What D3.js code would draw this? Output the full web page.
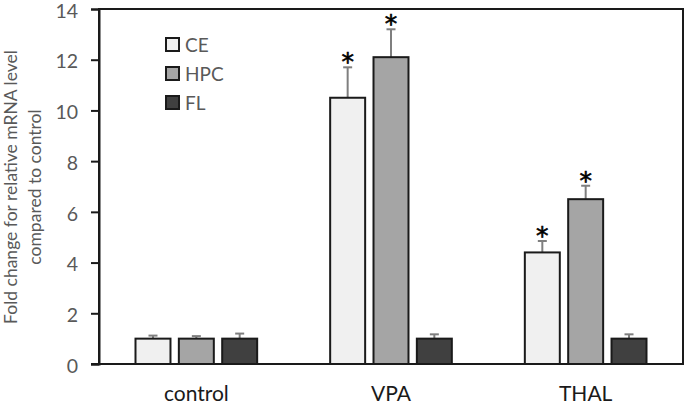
<!DOCTYPE html>
<html><head><meta charset="utf-8">
<script src="https://cdn.jsdelivr.net/npm/d3@7"></script>
<style>body{margin:0;background:#fff;} svg{display:block;}</style>
</head><body>
<script>
const categories = ["control", "VPA", "THAL"];
const seriesNames = ["CE", "HPC", "FL"];
const ceValues = [1.0, 10.5, 4.4];
const hpcValues = [1.0, 12.1, 6.5];
const flValues = [1.0, 1.0, 1.0];
const ceErrors = [0.12, 1.2, 0.45];
const hpcErrors = [0.1, 1.1, 0.53];
const flErrors = [0.2, 0.17, 0.17];
const ceStars = [false, true, true];
const hpcStars = [false, true, true];
const flStars = [false, false, false];
const yTicks = [0, 2, 4, 6, 8, 10, 12, 14];
const colors = ["#f0f0f0", "#a5a5a5", "#404040"];

const values = [ceValues, hpcValues, flValues];
const errors = [ceErrors, hpcErrors, flErrors];
const stars = [ceStars, hpcStars, flStars];

const W = 685, H = 405;
const m = {left: 99, right: 2, top: 9, bottom: 41};
const svg = d3.select("body").append("svg").attr("width", W).attr("height", H);
const font = "Lato, 'Open Sans', sans-serif";

const x0 = d3.scaleBand().domain(categories).range([m.left, W - m.right]).paddingInner(0.375).paddingOuter(0.1875);
const x1 = d3.scaleBand().domain(seriesNames).range([0, x0.bandwidth()]).paddingInner(0.193).paddingOuter(0);
const y = d3.scaleLinear().domain([0, 14]).range([H - m.bottom, m.top]);

// frame
svg.append("rect").attr("x", m.left).attr("y", m.top).attr("width", W - m.right - m.left).attr("height", H - m.bottom - m.top)
  .attr("fill", "none").attr("stroke", "#1a1a1a").attr("stroke-width", 2);

// y axis
const yAxis = svg.append("g").attr("transform", `translate(${m.left},0)`)
  .call(d3.axisLeft(y).tickValues(yTicks).tickSize(8).tickPadding(13).tickFormat(d3.format("d")));
yAxis.select(".domain").attr("stroke", "#1a1a1a").attr("stroke-width", 2);
yAxis.selectAll(".tick line").attr("stroke", "#1a1a1a").attr("stroke-width", 2);
yAxis.selectAll(".tick text").attr("font-family", font).attr("font-size", 19.5).attr("fill", "#595959")
  .attr("y", 2);

// x labels
const xAxis = svg.append("g").attr("transform", `translate(0,${H - m.bottom})`)
  .call(d3.axisBottom(x0).tickSize(0).tickPadding(22));
xAxis.select(".domain").remove();
xAxis.selectAll(".tick text").attr("font-family", font).attr("font-size", 21).attr("fill", "#1a1a1a");

// bars
seriesNames.forEach((s, si) => {
  const g = svg.append("g");
  categories.forEach((c, ci) => {
    const bx = x0(c) + x1(s), bw = x1.bandwidth();
    const v = values[si][ci], e = errors[si][ci];
    const cx = bx + bw / 2;
    g.append("line").attr("x1", cx).attr("x2", cx).attr("y1", y(v)).attr("y2", y(v + e))
      .attr("stroke", "#7f7f7f").attr("stroke-width", 2);
    g.append("line").attr("x1", cx - 4.5).attr("x2", cx + 4.5).attr("y1", y(v + e)).attr("y2", y(v + e))
      .attr("stroke", "#7f7f7f").attr("stroke-width", 2);
    g.append("rect").attr("x", bx).attr("y", y(v)).attr("width", bw).attr("height", y(0) - y(v))
      .attr("fill", colors[si]).attr("stroke", "#1a1a1a").attr("stroke-width", 2);
    if (stars[si][ci]) {
      g.append("text").attr("x", cx).attr("y", y(v + e) + 3).attr("text-anchor", "middle")
        .attr("font-family", "'DejaVu Sans', sans-serif").attr("font-size", 25).attr("fill", "#000")
        .attr("stroke", "#000").attr("stroke-width", 0.6).text("*");
    }
  });
});

svg.append("line").attr("x1", m.left - 8).attr("x2", W - m.right).attr("y1", y(0)).attr("y2", y(0))
  .attr("stroke", "#1a1a1a").attr("stroke-width", 2);

// legend
const leg = svg.append("g");
seriesNames.forEach((s, i) => {
  const ly = 45 + i * 29;
  leg.append("rect").attr("x", 166).attr("y", ly - 7).attr("width", 13).attr("height", 13)
    .attr("fill", colors[i]).attr("stroke", "#1a1a1a").attr("stroke-width", 2);
  leg.append("text").attr("x", 185).attr("y", ly).attr("dy", "0.35em")
    .attr("font-family", font).attr("font-size", 19).attr("fill", "#595959").text(s);
});

// y title
const yt = svg.append("text").attr("transform", "translate(0,187) rotate(-90)")
  .attr("text-anchor", "middle").attr("font-family", font).attr("font-size", 17.5).attr("fill", "#595959");
yt.append("tspan").attr("x", 0).attr("y", 17).text("Fold change for relative mRNA level");
yt.append("tspan").attr("x", 0).attr("y", 41).text("compared to control");
</script>
</body></html>
